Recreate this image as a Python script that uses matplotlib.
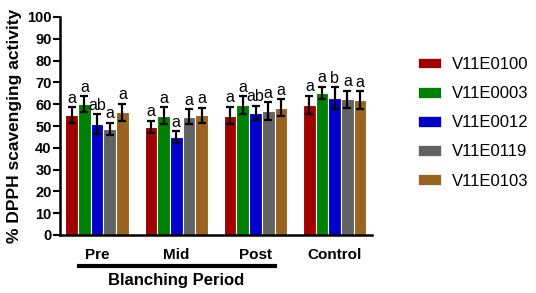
import matplotlib
matplotlib.use("Agg")
import matplotlib.pyplot as plt
import numpy as np
from matplotlib.patches import Patch
from matplotlib.lines import Line2D

plt.rcParams['font.family'] = ['Liberation Sans', 'DejaVu Sans']

groups = ["Pre", "Mid", "Post", "Control"]
varieties = ["V11E0100", "V11E0003", "V11E0012", "V11E0119", "V11E0103"]
colors = ["#A00000", "#008000", "#0000CC", "#626262", "#9A6420"]

# rows = groups, columns = varieties
means = [
    [55.0, 60.0, 51.0, 48.8, 56.3],
    [49.6, 54.8, 45.0, 54.2, 55.0],
    [54.8, 59.7, 56.0, 56.8, 58.4],
    [59.8, 65.2, 62.9, 62.2, 62.0],
]
errors = [
    [3.5, 3.8, 4.5, 2.8, 3.9],
    [2.9, 3.8, 2.6, 3.5, 3.4],
    [4.1, 4.0, 3.3, 4.1, 4.0],
    [4.1, 2.9, 5.0, 4.0, 4.0],
]
letters = [
    ["a", "a", "ab", "a", "a"],
    ["a", "a", "a", "a", "a"],
    ["a", "a", "ab", "a", "a"],
    ["a", "a", "b", "a", "a"],
]
yticks = [0, 10, 20, 30, 40, 50, 60, 70, 80, 90, 100]

W, H = 536, 293
fig = plt.figure(figsize=(W / 100, H / 100), dpi=100)
ax = fig.add_axes([60 / W, 1 - 235 / H, (372 - 60) / W, (235 - 17) / H])

bw = 0.16
x = np.arange(len(groups))
for j, var in enumerate(varieties):
    xs = x + (j - 2) * bw
    vals = [means[g][j] for g in range(len(groups))]
    errs = [errors[g][j] for g in range(len(groups))]
    ax.bar(xs, vals, width=bw, color=colors[j], edgecolor="white", linewidth=0.8, zorder=2)
    ax.errorbar(xs, vals, yerr=errs, fmt="none", ecolor="black", elinewidth=1.6,
                capsize=2.8, capthick=1.6, zorder=3)
    for g in range(len(groups)):
        ax.text(xs[g], vals[g] + errs[g] + 0.6, letters[g][j], ha="center", va="bottom",
                fontsize=11.5, color="black", zorder=4)

ax.set_xlim(-0.467, 3.47)
ax.set_ylim(0, 100)
ax.set_yticks(yticks)
ax.set_yticklabels([str(t) for t in yticks], fontsize=10.5, fontweight="bold")
ax.set_xticks([])
for s in ["top", "right"]:
    ax.spines[s].set_visible(False)
for s in ["left", "bottom"]:
    ax.spines[s].set_linewidth(1.8)
ax.tick_params(axis="y", length=5, width=1.5, pad=1)
ax.set_ylabel("% DPPH scavenging activity", fontsize=12.5, fontweight="bold", labelpad=4)

# group labels
for g, name in enumerate(groups):
    fig.text((97 + g * 79.3) / W, 1 - 255 / H, name, ha="center", va="center",
             fontsize=11, fontweight="bold")

fig.add_artist(Line2D([79 / W, 275 / W], [1 - 266 / H, 1 - 266 / H], color="black",
                      linewidth=3, transform=fig.transFigure))
fig.text(176 / W, 1 - 281 / H, "Blanching Period", ha="center", va="center",
         fontsize=12, fontweight="bold")

handles = [Patch(facecolor=c, edgecolor="white", linewidth=0.5) for c in colors]
fig.legend(handles, varieties, loc="upper left", bbox_to_anchor=(418 / W, 1 - 57 / H),
           frameon=False, fontsize=12, handlelength=1.35, handleheight=0.6,
           handletextpad=0.7, labelspacing=0.85, borderpad=0, borderaxespad=0)

fig.savefig("out.png", dpi=100)
